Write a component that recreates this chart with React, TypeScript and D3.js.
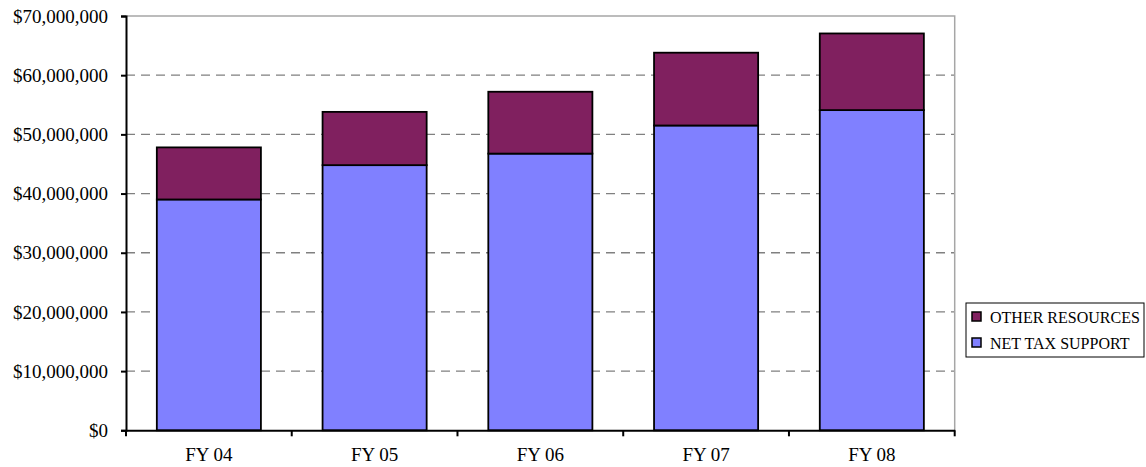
import React, { useEffect, useRef } from 'react';
import * as d3 from 'd3';

const years = ['FY 04', 'FY 05', 'FY 06', 'FY 07', 'FY 08'];
const netTaxSupport = [39000000, 44800000, 46750000, 51500000, 54100000];
const otherResources = [8800000, 9000000, 10450000, 12300000, 12950000];
const yTicks = [0, 10000000, 20000000, 30000000, 40000000, 50000000, 60000000, 70000000];
const seriesNames = ['NET TAX SUPPORT', 'OTHER RESOURCES'];
const seriesColors = ['#8080ff', '#80205f'];

const serif = '"Liberation Serif", "Times New Roman", serif';

const App = () => {
  const svgRef = useRef<SVGSVGElement>(null);

  useEffect(() => {
    const svg = d3.select(svgRef.current);
    svg.selectAll('*').remove();

    const left = 126;
    const right = 954.7;
    const top = 16;
    const bottom = 430.3;

    const x = d3.scaleBand().domain(years).range([left, right]).paddingInner(0.372).paddingOuter(0.186);
    const y = d3.scaleLinear().domain([0, 70000000]).range([bottom, top]);

    // grid
    svg.append('g')
      .selectAll('line')
      .data(yTicks.filter(t => t > 0 && t < 70000000))
      .join('line')
      .attr('x1', left).attr('x2', right)
      .attr('y1', d => y(d)).attr('y2', d => y(d))
      .attr('stroke', '#808080')
      .attr('stroke-width', 1.3)
      .attr('stroke-dasharray', '9,6');

    // plot border (top + right)
    svg.append('path')
      .attr('d', `M${left},${top}H${right}V${bottom}`)
      .attr('fill', 'none')
      .attr('stroke', '#a6a6a6')
      .attr('stroke-width', 1.5);

    const rows = years.map((yr, i) => ({ year: yr, net: netTaxSupport[i], other: otherResources[i] }));
    const stacked = d3.stack<any>().keys(['net', 'other'])(rows);

    svg.append('g')
      .selectAll('g')
      .data(stacked)
      .join('g')
      .attr('fill', (d, i) => seriesColors[i])
      .selectAll('rect')
      .data(d => d)
      .join('rect')
      .attr('x', d => x(d.data.year)!)
      .attr('width', x.bandwidth())
      .attr('y', d => y(d[1]))
      .attr('height', d => y(d[0]) - y(d[1]))
      .attr('stroke', '#000')
      .attr('stroke-width', 1.8);

    // y axis
    const yAxis = svg.append('g')
      .attr('transform', `translate(${left},0)`)
      .call(d3.axisLeft(y).tickValues(yTicks).tickSize(5).tickPadding(13)
        .tickFormat(d => '$' + d3.format(',')(d as number)));
    yAxis.select('.domain').attr('stroke', '#000').attr('stroke-width', 2);
    yAxis.selectAll('.tick line').attr('stroke', '#000').attr('stroke-width', 2);
    yAxis.selectAll('text')
      .attr('font-family', serif)
      .attr('font-size', 19)
      .attr('fill', '#000');

    // x axis
    const xAxis = svg.append('g')
      .attr('transform', `translate(0,${bottom})`)
      .call(d3.axisBottom(x).tickSize(0).tickPadding(17));
    xAxis.select('.domain').attr('stroke', '#000').attr('stroke-width', 2);
    xAxis.selectAll('text')
      .attr('font-family', serif)
      .attr('font-size', 19)
      .attr('fill', '#000');
    const step = x.step();
    xAxis.selectAll('line.sep')
      .data(d3.range(years.length + 1))
      .join('line')
      .attr('class', 'sep')
      .attr('x1', i => left + i * step).attr('x2', i => left + i * step)
      .attr('y1', 0).attr('y2', 6)
      .attr('stroke', '#000')
      .attr('stroke-width', 2);

    // legend
    const lg = svg.append('g').attr('transform', 'translate(966,303)');
    lg.append('rect')
      .attr('width', 178).attr('height', 54)
      .attr('fill', '#fff').attr('stroke', '#000').attr('stroke-width', 1);
    const legendItems = [1, 0];
    legendItems.forEach((si, k) => {
      const g = lg.append('g').attr('transform', `translate(6,${14 + k * 26})`);
      g.append('rect')
        .attr('x', 0).attr('y', -5).attr('width', 9).attr('height', 9)
        .attr('fill', seriesColors[si]).attr('stroke', '#000').attr('stroke-width', 1.5);
      g.append('text')
        .attr('x', 18).attr('y', 0).attr('dy', '0.35em')
        .attr('font-family', serif)
        .attr('font-size', 16)
        .attr('fill', '#000')
        .text(seriesNames[si]);
    });
  }, []);

  return (
    <svg ref={svgRef} width={1146} height={467}
      style={{ position: 'absolute', left: 0, top: 0, background: '#fff' }} />
  );
};

export default App;
